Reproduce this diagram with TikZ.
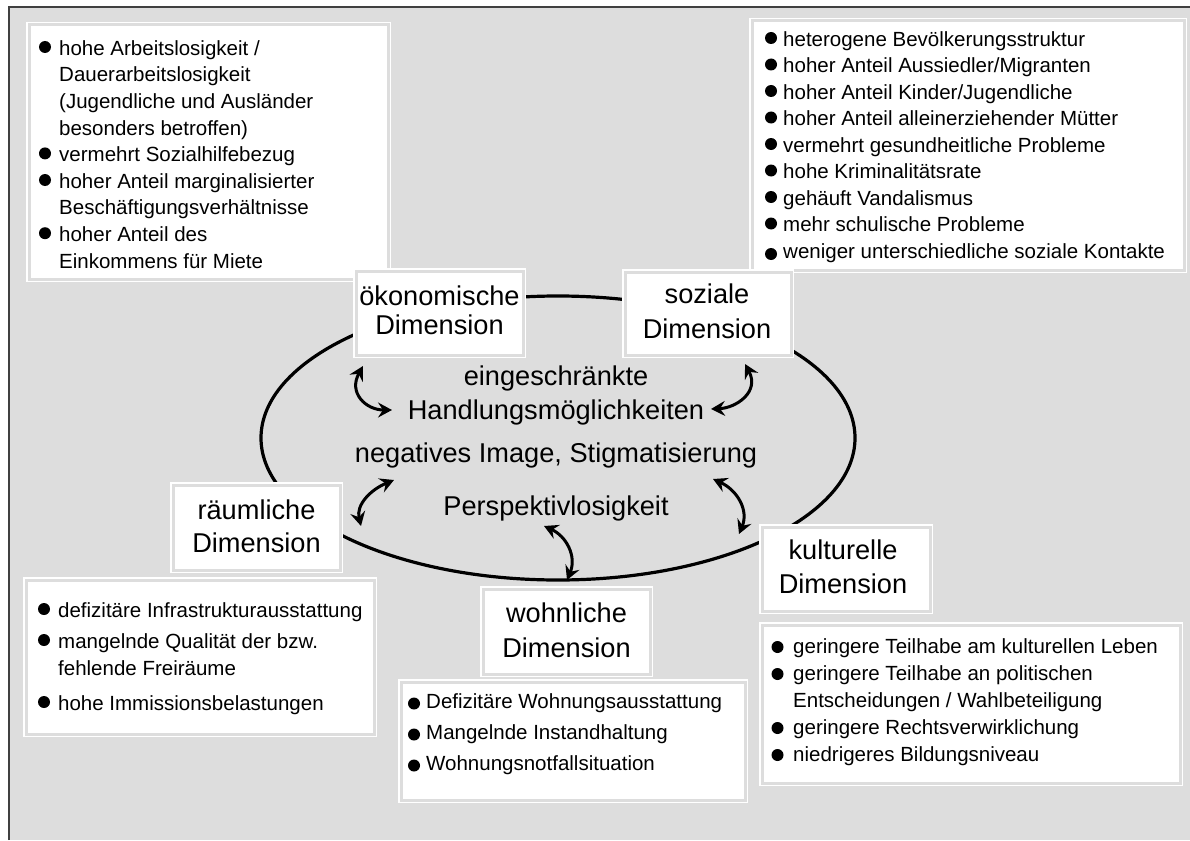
\documentclass[tikz,border=0pt]{standalone}
\usepackage{fontspec}
\setmainfont{Liberation Sans}
\usetikzlibrary{arrows.meta}
\definecolor{bg}{HTML}{DDDDDD}
\definecolor{framec}{HTML}{404040}
\tikzset{
  boxframe/.style={rectangle, draw=white, double=bg, double distance=3pt, line width=1.5pt, fill=white, inner sep=0pt},
  listtxt/.style={inner sep=0pt, anchor=north west, font=\fontsize{20.5pt}{#1}\selectfont},
  dimtxt/.style={inner sep=0pt, anchor=north, font=\fontsize{27.2pt}{#1}\selectfont},
  midtxt/.style={inner sep=0pt, anchor=base, font=\fontsize{27.2pt}{32pt}\selectfont},
  ring/.style={line width=3.2pt, black},
  dbl/.style={line width=3pt, {Stealth[length=14pt,width=15pt,inset=5pt]}-{Stealth[length=14pt,width=15pt,inset=5pt]}},
  bul/.style={fill=black}
}
\begin{document}
\begin{tikzpicture}[x=1pt,y=-1pt]
\useasboundingbox (0,0) rectangle (1190,840);
\fill[white] (0,0) rectangle (1190,840);
\fill[bg] (9,7) rectangle (1190,840);
\draw[framec, line width=2pt] (9,840) -- (9,7) -- (1190,7);

% ring
\draw[ring] (558,438) ellipse [x radius=297pt, y radius=142pt];

% list boxes
\node[boxframe, minimum width=359, minimum height=254] (tlbox) at (208.5,152) {};
\node[boxframe, minimum width=432, minimum height=249] (trbox) at (968,145.5) {};
\node[boxframe, minimum width=348, minimum height=154] (blbox) at (200,657) {};
\node[boxframe, minimum width=344, minimum height=118] (wlbox) at (573,741) {};
\node[boxframe, minimum width=418, minimum height=158] (klbox) at (971,704) {};

% dimension boxes
\node[boxframe, minimum width=167, minimum height=84] (oekbox) at (439.5,313) {};
\node[boxframe, minimum width=166, minimum height=83] (sozbox) at (708,313.5) {};
\node[boxframe, minimum width=167, minimum height=85] (raubox) at (256.5,527.5) {};
\node[boxframe, minimum width=167, minimum height=85] (wohbox) at (566.5,631.5) {};
\node[boxframe, minimum width=168, minimum height=84] (kulbox) at (846,569) {};

% dimension labels
\node[dimtxt=29pt] (oektxt) at (439.5,284.7) {\begin{tabular}{@{}c@{}}ökonomische\\Dimension\end{tabular}};
\node[dimtxt=35pt] (soztxt) at (707,279.2) {\begin{tabular}{@{}c@{}}soziale\\Dimension\end{tabular}};
\node[dimtxt=33pt] (rautxt) at (256.5,495.9) {\begin{tabular}{@{}c@{}}räumliche\\Dimension\end{tabular}};
\node[dimtxt=35pt] (wohtxt) at (566.5,597.5) {\begin{tabular}{@{}c@{}}wohnliche\\Dimension\end{tabular}};
\node[dimtxt=34pt] (kultxt) at (843,535.2) {\begin{tabular}{@{}c@{}}kulturelle\\Dimension\end{tabular}};

% centre texts
\node[midtxt] (m1) at (556,385) {eingeschränkte};
\node[midtxt] (m2) at (556,419) {Handlungsmöglichkeiten};
\node[midtxt] (m3) at (556,462) {negatives Image, Stigmatisierung};
\node[midtxt] (m4) at (556,515) {Perspektivlosigkeit};

% double arrows
\coordinate (a1s) at (363,366); \coordinate (a1e) at (392,410);
\coordinate (a2s) at (745,364); \coordinate (a2e) at (711,409);
\coordinate (a3s) at (394,480); \coordinate (a3e) at (361,526);
\coordinate (a4s) at (713,479); \coordinate (a4e) at (739,534);
\coordinate (a5s) at (544,526); \coordinate (a5e) at (567,580);
\draw[dbl] (a1s) .. controls (348,393) and (366,410) .. (a1e);
\draw[dbl] (a2s) .. controls (760,392) and (736,408) .. (a2e);
\draw[dbl] (a3s) .. controls (370,490) and (356,505) .. (a3e);
\draw[dbl] (a4s) .. controls (737,490) and (749,510) .. (a4e);
\draw[dbl] (a5s) .. controls (566,536) and (577,556) .. (a5e);

% lists
\node[listtxt=26.6pt] (tltxt) at (59,36.38) {\begin{tabular}{@{}l@{}}
hohe Arbeitslosigkeit /\\
Dauerarbeitslosigkeit\\
(Jugendliche und Ausländer\\
besonders betroffen)\\
vermehrt Sozialhilfebezug\\
hoher Anteil marginalisierter\\
Beschäftigungsverhältnisse\\
hoher Anteil des\\
Einkommens für Miete
\end{tabular}};
\foreach \yy in {55,161.4,188,241.2} \fill[bul] (45,\yy-8) circle (6pt);

\node[listtxt=26.5pt] (trtxt) at (783,27.45) {\begin{tabular}{@{}l@{}}
heterogene Bevölkerungsstruktur\\
hoher Anteil Aussiedler/Migranten\\
hoher Anteil Kinder/Jugendliche\\
hoher Anteil alleinerziehender Mütter\\
vermehrt gesundheitliche Probleme\\
hohe Kriminalitätsrate\\
gehäuft Vandalismus\\
mehr schulische Probleme\\
weniger unterschiedliche soziale Kontakte
\end{tabular}};
\foreach \yy in {46,72.5,99,125.5,152,178.5,205,231.5} \fill[bul] (771,\yy-8) circle (6pt);
\fill[bul] (771,254) circle (6pt);

\node[listtxt=27pt] (bltxt) at (58,598.1) {\begin{tabular}{@{}l@{}}
defizitäre Infrastrukturausstattung\\[4pt]
mangelnde Qualität der bzw.\\
fehlende Freiräume\\[8pt]
hohe Immissionsbelastungen
\end{tabular}};
\foreach \yy in {617,648,710} \fill[bul] (44,\yy-8) circle (6pt);

\node[listtxt=31pt] (wltxt) at (426,686.3) {\begin{tabular}{@{}l@{}}
Defizitäre Wohnungsausstattung\\
Mangelnde Instandhaltung\\
Wohnungsnotfallsituation
\end{tabular}};
\foreach \yy in {708,739,770} \fill[bul] (414,\yy-4.5) circle (6pt);

\node[listtxt=27pt] (kltxt) at (793,634.1) {\begin{tabular}{@{}l@{}}
geringere Teilhabe am kulturellen Leben\\
geringere Teilhabe an politischen\\
Entscheidungen / Wahlbeteiligung\\
geringere Rechtsverwirklichung\\
niedrigeres Bildungsniveau
\end{tabular}};
\foreach \yy in {653,680,734,761} \fill[bul] (777.5,\yy-6) circle (6pt);
\end{tikzpicture}
\end{document}
